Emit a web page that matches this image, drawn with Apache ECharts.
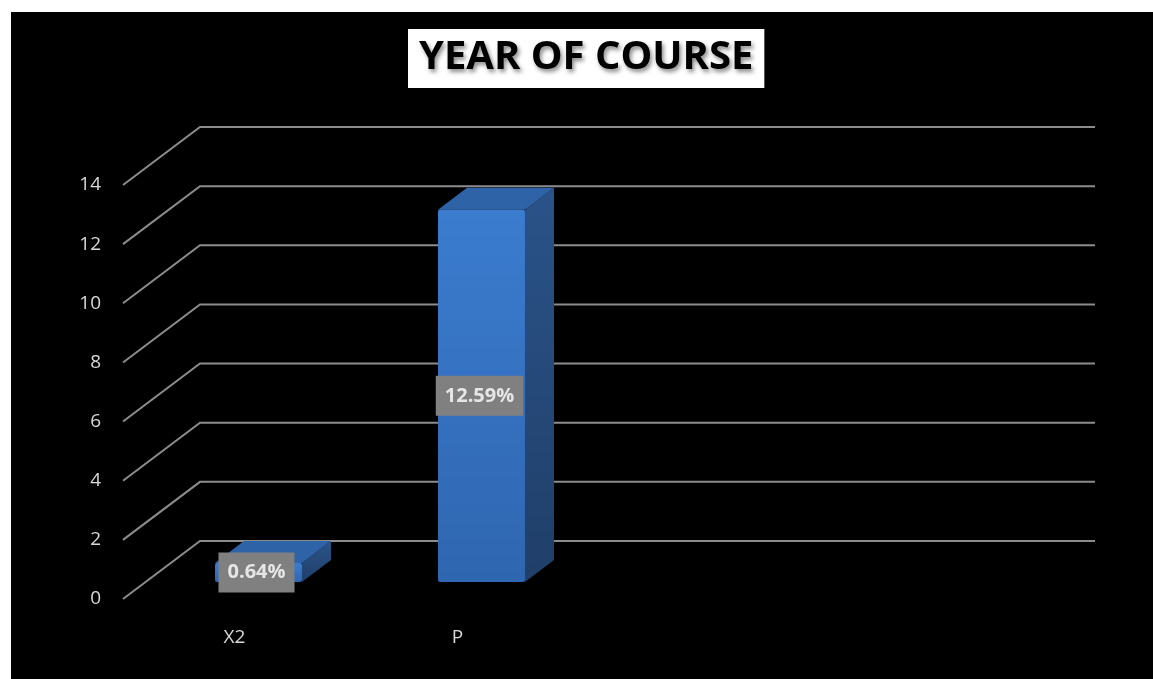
<!DOCTYPE html>
<html>
<head>
<meta charset="utf-8">
<script src="https://cdn.jsdelivr.net/npm/echarts@6/dist/echarts.min.js"></script>
<style>
  html, body { margin: 0; padding: 0; background: #ffffff; }
  #chart { position: absolute; left: 11px; top: 12px; width: 1142px; height: 667px; background: #000; }
</style>
</head>
<body>
<div id="chart"></div>
<script>
// ---- data ----
const titleText = 'YEAR OF COURSE';
const categories = ['X2', 'P', '', ''];
const values = [0.64, 12.59];
const valueLabels = ['0.64%', '12.59%'];
const yTicks = [0, 2, 4, 6, 8, 10, 12, 14];

// ---- 3D look constants (styling only) ----
const DEPTH_DX = 77, DEPTH_DY = -58;
const BAR_FRONT_DX = 24, BAR_FRONT_DY = -17;
const BAR_DX = 29, BAR_DY = -22;
const BAR_W_RATIO = 0.39;
const FONT = '"Open Sans", "Liberation Sans", sans-serif';

const chart = echarts.init(document.getElementById('chart'));

const option = {
  backgroundColor: '#000',
  animation: false,
  title: {
    text: titleText,
    left: 397,
    top: 17,
    backgroundColor: '#ffffff',
    padding: [9, 11, 10, 11],
    textStyle: {
      color: '#000',
      fontSize: 40,
      fontWeight: 'bold',
      fontFamily: FONT,
      textShadowColor: 'rgba(0,0,0,0.45)',
      textShadowBlur: 4,
      textShadowOffsetX: 2,
      textShadowOffsetY: 3
    }
  },
  grid: { left: 112, right: 138, top: 173, bottom: 80, containLabel: false },
  xAxis: {
    type: 'category',
    data: categories,
    axisLine: { show: false },
    axisTick: { show: false },
    splitLine: { show: false },
    axisLabel: { color: '#d9d9d9', fontSize: 19, fontFamily: FONT, margin: 29 }
  },
  yAxis: {
    type: 'value',
    min: 0, max: 14, interval: 2,
    axisLine: { show: false },
    axisTick: { show: false },
    splitLine: { show: false },
    axisLabel: { color: '#d9d9d9', fontSize: 19, fontFamily: FONT, margin: 22 }
  },
  series: [
    {
      type: 'custom',
      z: 1,
      silent: true,
      data: yTicks.map(v => [0, v]),
      renderItem: function (params, api) {
        const cs = params.coordSys;
        const y = api.coord([0, api.value(1)])[1];
        const x0 = cs.x;
        const x1 = cs.x + cs.width;
        return {
          type: 'polyline',
          shape: { points: [[x0, y], [x0 + DEPTH_DX, y + DEPTH_DY], [x1 + DEPTH_DX + 3, y + DEPTH_DY]] },
          style: { stroke: '#8c8c8c', lineWidth: 2, fill: null }
        };
      }
    },
    {
      type: 'custom',
      z: 2,
      data: values.map((v, i) => [i, v]),
      renderItem: function (params, api) {
        const i = api.value(0);
        const v = api.value(1);
        const base = api.coord([i, 0]);
        const top = api.coord([i, v]);
        const bw = api.size([1, 0])[0] * BAR_W_RATIO;
        const cx = base[0] + BAR_FRONT_DX;
        const L = cx - bw / 2, R = cx + bw / 2;
        const yb = base[1] + BAR_FRONT_DY;
        const yt = top[1] + BAR_FRONT_DY;
        return {
          type: 'group',
          children: [
            {
              type: 'polygon',
              shape: { points: [[R, yt], [R + BAR_DX, yt + BAR_DY], [R + BAR_DX, yb + BAR_DY], [R, yb]] },
              style: {
                fill: new echarts.graphic.LinearGradient(0, 0, 0, 1, [
                  { offset: 0, color: '#2a5389' },
                  { offset: 1, color: '#203f69' }
                ])
              }
            },
            {
              type: 'polygon',
              shape: { points: [[L, yt], [R, yt], [R + BAR_DX, yt + BAR_DY], [L + BAR_DX, yt + BAR_DY]] },
              style: { fill: '#2f63a8' }
            },
            {
              type: 'rect',
              shape: { x: L, y: yt, width: bw, height: yb - yt, r: 2 },
              style: {
                fill: new echarts.graphic.LinearGradient(0, 0, 0, 1, [
                  { offset: 0, color: '#3b7ccf' },
                  { offset: 1, color: '#2f66b0' }
                ])
              }
            },
            {
              type: 'text',
              z2: 10,
              style: {
                text: valueLabels[i],
                x: cx - 2,
                y: (yt + yb) / 2,
                align: 'center',
                verticalAlign: 'middle',
                fill: '#e6e6e6',
                font: 'bold 20px ' + FONT,
                backgroundColor: '#808080',
                padding: [10, 9, 10, 9]
              }
            }
          ]
        };
      }
    }
  ]
};

chart.setOption(option);
</script>
</body>
</html>
